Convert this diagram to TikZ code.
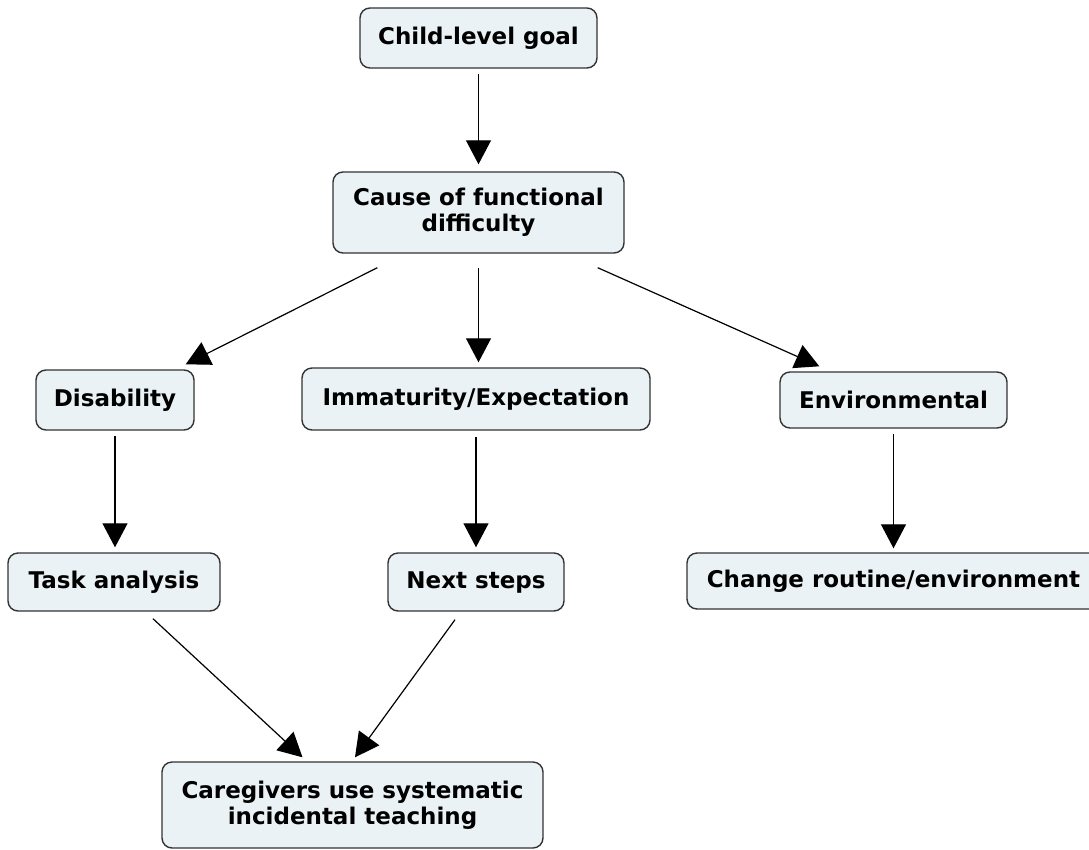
\documentclass[tikz,border=0pt]{standalone}
\usepackage{fontspec}
\setmainfont{DejaVu Sans}
\usetikzlibrary{arrows.meta,calc}
\definecolor{boxfill}{HTML}{EAF2F5}
\definecolor{boxline}{HTML}{333333}
\tikzset{
  box/.style={draw=boxline, line width=1.4pt, fill=boxfill, rounded corners=10pt,
    align=center, inner sep=0pt, font=\bfseries\fontsize{23}{26}\selectfont},
  arr/.style={draw=black, line width=1.2pt, -{Triangle[length=24pt,width=25pt]}},
}
\begin{document}
\begin{tikzpicture}[x=1pt,y=-1pt]
\useasboundingbox (0,0) rectangle (1089,849);

% concept boxes
\node[box, minimum width=237pt, minimum height=60pt] (goal) at (478.5,38) {Child-level goal};
\node[box, minimum width=291pt, minimum height=81pt] (cause) at (478.5,212.5) {Cause of functional\\difficulty};
\node[box, minimum width=158pt, minimum height=60pt] (dis) at (115,400) {Disability};
\node[box, minimum width=348pt, minimum height=62pt] (imm) at (476,399) {Immaturity/Expectation};
\node[box, minimum width=227pt, minimum height=56pt] (env) at (893.5,400) {Environmental};
\node[box, minimum width=212pt, minimum height=58pt] (task) at (114,582) {Task analysis};
\node[box, minimum width=176pt, minimum height=58pt] (next) at (476,582) {Next steps};
\node[box, minimum width=413pt, minimum height=56pt] (change) at (893.5,581) {Change routine/environment};
\node[box, minimum width=381pt, minimum height=86pt] (care) at (352.5,805) {Caregivers use systematic\\incidental teaching};

% connectors
\draw[arr, shorten <=5pt, shorten >=7pt] (goal) -- (cause);
\draw[arr] ($(cause.south west)+(45,14)$) -- ($(dis.north east)+(-9,-5)$);
\draw[arr, shorten <=14pt, shorten >=5pt] (cause.south) -- (cause.south |- imm.north);
\draw[arr] ($(cause.south east)+(-27,14)$) -- ($(env.north west)+(40,-5)$);
\draw[arr, shorten <=5pt, shorten >=5pt] (dis) -- (dis |- task.north);
\draw[arr, shorten <=6pt, shorten >=5pt] (imm) -- (next);
\draw[arr, shorten <=5pt, shorten >=4pt] (env) -- (env |- change.north);
\draw[arr] ($(task.south)+(39,7)$) -- ($(care.north)+(-50,-4)$);
\draw[arr] ($(next.south)+(-21,8)$) -- ($(care.north)+(2.5,-4)$);
\end{tikzpicture}
\end{document}
